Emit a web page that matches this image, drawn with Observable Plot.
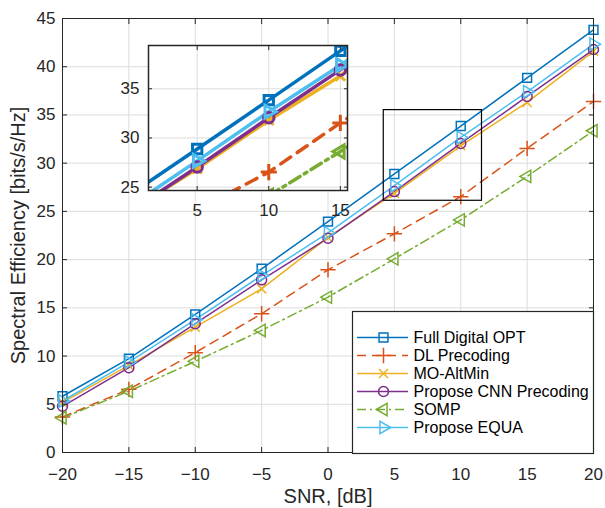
<!DOCTYPE html>
<html>
<head>
<meta charset="utf-8">
<script src="https://cdn.jsdelivr.net/npm/d3@7"></script>
<script src="https://cdn.jsdelivr.net/npm/@observablehq/plot@0.6"></script>
<style>
  html, body { margin: 0; padding: 0; background: white; }
  #chart { position: relative; width: 605px; height: 508px; overflow: hidden; font-family: "Liberation Sans", Arial, sans-serif; }
  #chart > div, #chart > svg { position: absolute; }
</style>
</head>
<body>
<div id="chart"></div>
<script>
// ---- data ----
const snr = [-20, -15, -10, -5, 0, 5, 10, 15, 20];
const fullDigitalOPT = [5.83, 9.73, 14.32, 19.05, 23.94, 28.88, 33.85, 38.85, 43.82];
const dlPrecoding    = [3.69, 6.55, 10.35, 14.39, 18.94, 22.67, 26.53, 31.53, 36.40];
const moAltMin       = [5.20, 9.04, 13.00, 16.97, 22.30, 26.87, 31.80, 36.30, 41.60];
const cnnPrecoding   = [4.79, 8.80, 13.35, 17.90, 22.22, 27.05, 32.05, 36.92, 41.78];
const somp           = [3.60, 6.35, 9.45, 12.66, 16.11, 20.08, 24.12, 28.63, 33.36];
const equa           = [5.34, 9.38, 13.77, 18.35, 22.77, 27.67, 32.67, 37.40, 42.34];

const seriesNames = ["Full Digital OPT", "DL Precoding", "MO-AltMin", "Propose CNN Precoding", "SOMP", "Propose EQUA"];
const seriesValues = [fullDigitalOPT, dlPrecoding, moAltMin, cnnPrecoding, somp, equa];

const xTicks = [-20, -15, -10, -5, 0, 5, 10, 15, 20];
const yTicks = [0, 5, 10, 15, 20, 25, 30, 35, 40, 45];
const insetXTicks = [5, 10, 15];
const insetYTicks = [25, 30, 35];

// ---- styles ----
const styles = [
  {color: "#0072BD", dash: null,        insetDash: null,        symbol: "square",   r: 5.0, rotate: 0},
  {color: "#D95319", dash: "9,6",       insetDash: "12,8",      symbol: "plus",     r: 5.0, rotate: 0},
  {color: "#EDB120", dash: null,        insetDash: null,        symbol: "times",    r: 4.2, rotate: 0},
  {color: "#7E2F8E", dash: null,        insetDash: null,        symbol: "circle",   r: 5.0, rotate: 0},
  {color: "#77AC30", dash: "9,4,2,4",   insetDash: "12,5,3,5",  symbol: "triangle", r: 4.6, rotate: -90},
  {color: "#4DBEEE", dash: null,        insetDash: null,        symbol: "triangle", r: 4.6, rotate: 90}
];

const rows = seriesNames.map((name, k) => snr.map((x, i) => ({series: name, k, x, y: seriesValues[k][i]})));

const axisColor = "#262626";
const gridColor = "#dcdcdc";
const font = {fontFamily: "'Liberation Sans', Arial, sans-serif", fontSize: "17px", background: "transparent", overflow: "visible"};

const chart = document.getElementById("chart");

function seriesMarks(width, dashKey, markerScale, markerWidth, clip) {
  const marks = [];
  rows.forEach((data, k) => {
    const s = styles[k];
    marks.push(Plot.line(data, {x: "x", y: "y", stroke: s.color, strokeWidth: width, strokeDasharray: s[dashKey], clip}));
  });
  rows.forEach((data, k) => {
    const s = styles[k];
    marks.push(Plot.dot(data, {x: "x", y: "y", symbol: s.symbol, r: s.r * markerScale, rotate: s.rotate, stroke: s.color, strokeWidth: markerWidth, fill: "none", clip}));
  });
  return marks;
}

// ---- main plot ----
const main = Plot.plot({
  width: 605, height: 508,
  marginLeft: 62, marginRight: 12, marginTop: 18, marginBottom: 56,
  style: font,
  x: {domain: [-20, 20]},
  y: {domain: [0, 45]},
  marks: [
    Plot.gridX(xTicks, {stroke: gridColor, strokeOpacity: 1}),
    Plot.gridY(yTicks, {stroke: gridColor, strokeOpacity: 1}),
    ...seriesMarks(1.5, "dash", 1, 1.5, false),
    Plot.axisX(xTicks, {anchor: "bottom", tickSize: 5, dy: -5, fill: "none", stroke: axisColor, label: null}),
    Plot.axisX(xTicks, {anchor: "top", tickSize: 5, dy: 5, fill: "none", stroke: axisColor, label: null}),
    Plot.axisY(yTicks, {anchor: "left", tickSize: 5, dx: 5, fill: "none", stroke: axisColor, label: null}),
    Plot.axisY(yTicks, {anchor: "right", tickSize: 5, dx: -5, fill: "none", stroke: axisColor, label: null}),
    Plot.axisX(xTicks, {anchor: "bottom", tickSize: 0, tickPadding: 15, fill: axisColor, label: null}),
    Plot.axisY(yTicks, {anchor: "left", tickSize: 0, tickPadding: 7, fill: axisColor, label: null}),
    Plot.frame({stroke: axisColor, strokeWidth: 1}),
    Plot.text(["SNR, [dB]"], {frameAnchor: "bottom", textAnchor: "middle", dy: 50, fill: axisColor, fontSize: 20}),
    Plot.text(["Spectral Efficiency [bits/s/Hz]"], {frameAnchor: "left", textAnchor: "middle", dx: -44, rotate: -90, fill: axisColor, fontSize: 20})
  ]
});
main.style.left = "0px"; main.style.top = "0px";
chart.appendChild(main);

// ---- zoom rectangle on main plot ----
const zoomBox = {x1: 4.2, x2: 11.6, y1: 26.1, y2: 35.5};
const overlay = Plot.plot({
  width: 605, height: 508,
  marginLeft: 62, marginRight: 12, marginTop: 18, marginBottom: 56,
  style: font,
  x: {domain: [-20, 20], axis: null},
  y: {domain: [0, 45], axis: null},
  marks: [
    Plot.rect([zoomBox], {x1: "x1", x2: "x2", y1: "y1", y2: "y2", fill: "none", stroke: "#000", strokeWidth: 1.2})
  ]
});
overlay.style.left = "0px"; overlay.style.top = "0px";
overlay.style.pointerEvents = "none";
chart.appendChild(overlay);

// ---- inset ----
const inset = Plot.plot({
  width: 237, height: 177,
  marginLeft: 30, marginRight: 8, marginTop: 2, marginBottom: 30,
  style: font,
  x: {domain: [1.6, 15.5]},
  y: {domain: [24.66, 39.4]},
  marks: [
    Plot.frame({fill: "white", stroke: "none"}),
    Plot.gridX(insetXTicks, {stroke: gridColor, strokeOpacity: 1}),
    Plot.gridY(insetYTicks, {stroke: gridColor, strokeOpacity: 1}),
    ...seriesMarks(3.5, "insetDash", 1.05, 3, true),
    Plot.axisX(insetXTicks, {anchor: "bottom", tickSize: 4, dy: -4, fill: "none", stroke: axisColor, label: null}),
    Plot.axisX(insetXTicks, {anchor: "top", tickSize: 4, dy: 4, fill: "none", stroke: axisColor, label: null}),
    Plot.axisY(insetYTicks, {anchor: "left", tickSize: 4, dx: 4, fill: "none", stroke: axisColor, label: null}),
    Plot.axisY(insetYTicks, {anchor: "right", tickSize: 4, dx: -4, fill: "none", stroke: axisColor, label: null}),
    Plot.axisX(insetXTicks, {anchor: "bottom", tickSize: 0, tickPadding: 13, fill: axisColor, label: null}),
    Plot.axisY(insetYTicks, {anchor: "left", tickSize: 0, tickPadding: 9, fill: axisColor, label: null}),
    Plot.frame({stroke: axisColor, strokeWidth: 1.5})
  ]
});
inset.style.left = "118px"; inset.style.top = "43px";
chart.appendChild(inset);

// ---- legend ----
const legendRows = seriesNames.map((name, k) => ({name, k}));
const legend = Plot.plot({
  width: 241, height: 142,
  margin: 0,
  style: font,
  x: {type: "identity", axis: null},
  y: {type: "point", domain: seriesNames, range: [15, 127.3], axis: null},
  marks: [
    Plot.frame({fill: "white", stroke: axisColor, strokeWidth: 1.2}),
    ...legendRows.map((d) => Plot.ruleY([d], {y: "name", x1: 5, x2: 56, stroke: styles[d.k].color, strokeWidth: 1.5, strokeDasharray: styles[d.k].dash})),
    ...legendRows.map((d) => Plot.dot([d], {y: "name", x: 31, symbol: styles[d.k].symbol, r: styles[d.k].r, rotate: styles[d.k].rotate, stroke: styles[d.k].color, strokeWidth: 1.5, fill: "none"})),
    Plot.text(legendRows, {y: "name", x: 61, text: "name", textAnchor: "start", fill: "#000", fontSize: 16})
  ]
});
legend.style.left = "352px"; legend.style.top = "311px";
chart.appendChild(legend);
</script>
</body>
</html>
